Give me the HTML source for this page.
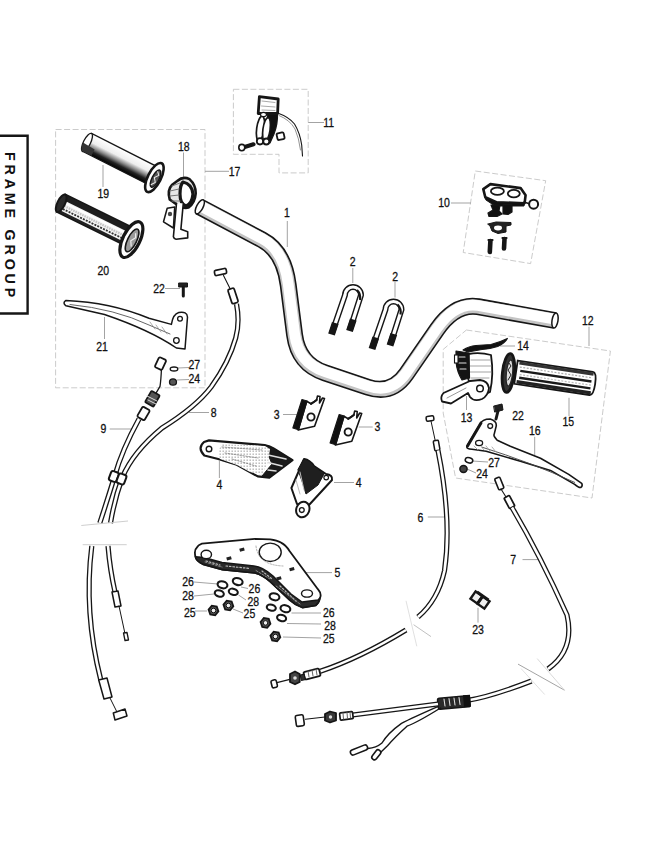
<!DOCTYPE html>
<html><head><meta charset="utf-8"><style>
html,body{margin:0;padding:0;background:#fff;}
body{width:646px;height:862px;overflow:hidden;}
svg{display:block;}
.lb{font-family:"Liberation Sans",sans-serif;font-size:12.2px;fill:#111;stroke:#111;stroke-width:0.3px;}
.fg{font-family:"Liberation Sans",sans-serif;font-weight:bold;font-size:14.3px;letter-spacing:3.8px;fill:#111;}
</style></head><body>
<svg width="646" height="862" viewBox="0 0 646 862">
<rect width="646" height="862" fill="#fff"/>
<path d="M0,135.7 L27.6,135.7 L27.6,313.5 L0,313.5" fill="none" stroke="#161616" stroke-width="2.4"/>
<text x="0" y="0" transform="translate(4.6,226.5) rotate(90)" text-anchor="middle" class="fg">FRAME GROUP</text>
<path d="M55.6,129.5 L205,129.5 L205,387.8 L55.6,387.8 Z" fill="none" stroke="#c2c2c2" stroke-width="0.85" stroke-dasharray="6 2.5"/>
<path d="M233.4,89.3 L308.2,89.3 L308.2,172.9 L279,172.9 L279,154.3 L233.4,154.3 Z" fill="none" stroke="#c2c2c2" stroke-width="0.85" stroke-dasharray="6 2.5"/>
<path d="M475.3,171 L545.7,180.7 L530.6,263.6 L463.2,252.5 Z" fill="none" stroke="#c2c2c2" stroke-width="0.85" stroke-dasharray="6 2.5"/>
<path d="M466.4,330 L610.4,351 L592,498 L455.6,478 L443.2,413 L443.2,349.4 Z" fill="none" stroke="#c2c2c2" stroke-width="0.85" stroke-dasharray="6 2.5"/>
<line x1="308.2" y1="122.5" x2="324" y2="122.5" stroke="#999999" stroke-width="0.9" />
<line x1="205" y1="171.3" x2="229" y2="171.3" stroke="#999999" stroke-width="0.9" />
<line x1="103" y1="165" x2="103" y2="187" stroke="#999999" stroke-width="0.9" />
<line x1="183.5" y1="152.5" x2="183.5" y2="177" stroke="#999999" stroke-width="0.9" />
<line x1="165" y1="288.5" x2="180" y2="288.5" stroke="#999999" stroke-width="0.9" />
<line x1="104.5" y1="317" x2="104.5" y2="339" stroke="#999999" stroke-width="0.9" />
<line x1="178" y1="368" x2="189" y2="367.5" stroke="#999999" stroke-width="0.9" />
<line x1="177" y1="380" x2="189" y2="379.5" stroke="#999999" stroke-width="0.9" />
<line x1="109.7" y1="429" x2="133" y2="429" stroke="#999999" stroke-width="0.9" />
<line x1="189" y1="412.5" x2="209" y2="412.5" stroke="#999999" stroke-width="0.9" />
<line x1="287.3" y1="221" x2="287.3" y2="247" stroke="#999999" stroke-width="0.9" />
<line x1="352.8" y1="268" x2="352.8" y2="283" stroke="#999999" stroke-width="0.9" />
<line x1="395" y1="281.7" x2="395" y2="297.5" stroke="#999999" stroke-width="0.9" />
<line x1="451" y1="203" x2="471" y2="203" stroke="#999999" stroke-width="0.9" />
<line x1="589" y1="326.7" x2="589" y2="346" stroke="#999999" stroke-width="0.9" />
<line x1="500" y1="346" x2="515" y2="346" stroke="#999999" stroke-width="0.9" />
<line x1="569" y1="397.8" x2="569" y2="416" stroke="#999999" stroke-width="0.9" />
<line x1="466.5" y1="396" x2="466.5" y2="410" stroke="#999999" stroke-width="0.9" />
<line x1="534.7" y1="436.8" x2="534.7" y2="455" stroke="#999999" stroke-width="0.9" />
<line x1="472" y1="461" x2="488" y2="462" stroke="#999999" stroke-width="0.9" />
<line x1="467" y1="469" x2="476" y2="473" stroke="#999999" stroke-width="0.9" />
<line x1="283" y1="414.5" x2="297" y2="414.5" stroke="#999999" stroke-width="0.9" />
<line x1="358.7" y1="427" x2="372.7" y2="427" stroke="#999999" stroke-width="0.9" />
<line x1="219.4" y1="461" x2="219.4" y2="478" stroke="#999999" stroke-width="0.9" />
<line x1="334" y1="482.5" x2="354" y2="482.5" stroke="#999999" stroke-width="0.9" />
<line x1="306" y1="572.6" x2="332" y2="572.6" stroke="#999999" stroke-width="0.9" />
<line x1="427.8" y1="517" x2="444.5" y2="517" stroke="#999999" stroke-width="0.9" />
<line x1="522.5" y1="559.6" x2="542.9" y2="559.6" stroke="#999999" stroke-width="0.9" />
<line x1="478" y1="607.8" x2="478" y2="622.6" stroke="#999999" stroke-width="0.9" />
<line x1="194" y1="582" x2="218" y2="584" stroke="#999999" stroke-width="0.9" />
<line x1="194" y1="596" x2="214" y2="594" stroke="#999999" stroke-width="0.9" />
<line x1="195" y1="611" x2="207" y2="611" stroke="#999999" stroke-width="0.9" />
<line x1="291.5" y1="613" x2="321" y2="613" stroke="#999999" stroke-width="0.9" />
<line x1="241" y1="587" x2="248" y2="588.5" stroke="#999999" stroke-width="0.9" />
<line x1="238.5" y1="595" x2="246" y2="600" stroke="#999999" stroke-width="0.9" />
<line x1="233" y1="609" x2="243" y2="613" stroke="#999999" stroke-width="0.9" />
<line x1="287" y1="623.5" x2="321" y2="624" stroke="#999999" stroke-width="0.9" />
<line x1="283" y1="637" x2="321" y2="638" stroke="#999999" stroke-width="0.9" />
<text transform="translate(328.7,126.7) scale(0.86,1)" text-anchor="middle" class="lb">11</text>
<text transform="translate(234.5,175.5) scale(0.86,1)" text-anchor="middle" class="lb">17</text>
<text transform="translate(103.3,198.2) scale(0.86,1)" text-anchor="middle" class="lb">19</text>
<text transform="translate(183.7,151.2) scale(0.86,1)" text-anchor="middle" class="lb">18</text>
<text transform="translate(103.3,274.59999999999997) scale(0.86,1)" text-anchor="middle" class="lb">20</text>
<text transform="translate(159,292.7) scale(0.86,1)" text-anchor="middle" class="lb">22</text>
<text transform="translate(102,350.9) scale(0.86,1)" text-anchor="middle" class="lb">21</text>
<text transform="translate(194.2,369.0) scale(0.86,1)" text-anchor="middle" class="lb">27</text>
<text transform="translate(194.2,382.9) scale(0.86,1)" text-anchor="middle" class="lb">24</text>
<text transform="translate(103.5,433.2) scale(0.86,1)" text-anchor="middle" class="lb">9</text>
<text transform="translate(213.7,417.0) scale(0.86,1)" text-anchor="middle" class="lb">8</text>
<text transform="translate(287,217.2) scale(0.86,1)" text-anchor="middle" class="lb">1</text>
<text transform="translate(352.6,265.5) scale(0.86,1)" text-anchor="middle" class="lb">2</text>
<text transform="translate(395.1,280.8) scale(0.86,1)" text-anchor="middle" class="lb">2</text>
<text transform="translate(444,207.39999999999998) scale(0.86,1)" text-anchor="middle" class="lb">10</text>
<text transform="translate(587.7,324.8) scale(0.86,1)" text-anchor="middle" class="lb">12</text>
<text transform="translate(523,350.2) scale(0.86,1)" text-anchor="middle" class="lb">14</text>
<text transform="translate(568.2,425.7) scale(0.86,1)" text-anchor="middle" class="lb">15</text>
<text transform="translate(466.5,421.5) scale(0.86,1)" text-anchor="middle" class="lb">13</text>
<text transform="translate(518,420.09999999999997) scale(0.86,1)" text-anchor="middle" class="lb">22</text>
<text transform="translate(534.7,435.4) scale(0.86,1)" text-anchor="middle" class="lb">16</text>
<text transform="translate(494,466.8) scale(0.86,1)" text-anchor="middle" class="lb">27</text>
<text transform="translate(482,478.4) scale(0.86,1)" text-anchor="middle" class="lb">24</text>
<text transform="translate(276.7,419.0) scale(0.86,1)" text-anchor="middle" class="lb">3</text>
<text transform="translate(377.3,431.2) scale(0.86,1)" text-anchor="middle" class="lb">3</text>
<text transform="translate(219.4,488.59999999999997) scale(0.86,1)" text-anchor="middle" class="lb">4</text>
<text transform="translate(358.7,487.09999999999997) scale(0.86,1)" text-anchor="middle" class="lb">4</text>
<text transform="translate(337.4,576.8000000000001) scale(0.86,1)" text-anchor="middle" class="lb">5</text>
<text transform="translate(420.4,522.2) scale(0.86,1)" text-anchor="middle" class="lb">6</text>
<text transform="translate(513.2,563.8000000000001) scale(0.86,1)" text-anchor="middle" class="lb">7</text>
<text transform="translate(478,634.2) scale(0.86,1)" text-anchor="middle" class="lb">23</text>
<text transform="translate(188,586.2) scale(0.86,1)" text-anchor="middle" class="lb">26</text>
<text transform="translate(188,600.2) scale(0.86,1)" text-anchor="middle" class="lb">28</text>
<text transform="translate(189.7,616.5) scale(0.86,1)" text-anchor="middle" class="lb">25</text>
<text transform="translate(254.4,592.9000000000001) scale(0.86,1)" text-anchor="middle" class="lb">26</text>
<text transform="translate(253.2,606.0) scale(0.86,1)" text-anchor="middle" class="lb">28</text>
<text transform="translate(249.4,618.4000000000001) scale(0.86,1)" text-anchor="middle" class="lb">25</text>
<text transform="translate(328.7,617.2) scale(0.86,1)" text-anchor="middle" class="lb">26</text>
<text transform="translate(330,629.6) scale(0.86,1)" text-anchor="middle" class="lb">28</text>
<text transform="translate(328.7,643.2) scale(0.86,1)" text-anchor="middle" class="lb">25</text>
<path d="M199.5,206.7 L262,239.8 Q284,251.4 288.2,285 L294.6,335 Q298.4,364 325,372.9 L368,387.2 Q391.7,395.1 406.3,374 L437,329.5 Q455.3,303.2 478,306.7 L555,320.5" fill="none" stroke="#161616" stroke-width="17" stroke-linejoin="round"/>
<path d="M199.5,206.7 L262,239.8 Q284,251.4 288.2,285 L294.6,335 Q298.4,364 325,372.9 L368,387.2 Q391.7,395.1 406.3,374 L437,329.5 Q455.3,303.2 478,306.7 L555,320.5" fill="none" stroke="#c4c4c4" stroke-width="13.8" stroke-linejoin="round"/>
<path d="M199.5,206.7 L262,239.8 Q284,251.4 288.2,285 L294.6,335 Q298.4,364 325,372.9 L368,387.2 Q391.7,395.1 406.3,374 L437,329.5 Q455.3,303.2 478,306.7 L555,320.5" fill="none" stroke="#fff" stroke-width="10.8" stroke-linejoin="round" transform="translate(0,-1.2)"/>
<ellipse cx="199.8" cy="206.8" rx="3.2" ry="7.8" transform="rotate(28 199.8 206.8)" fill="#fff" stroke="#161616" stroke-width="1.5"/>
<ellipse cx="555" cy="320.5" rx="3" ry="7.6" transform="rotate(9 555 320.5)" fill="#fff" stroke="#161616" stroke-width="1.5"/>
<path d="M332,333 L345,295 A8,8 0 0 1 361,295 L350,329.5" fill="none" stroke="#161616" stroke-width="6" stroke-linecap="butt" stroke-linejoin="round"/>
<path d="M332,333 L345,295 A8,8 0 0 1 361,295 L350,329.5" fill="none" stroke="#fff" stroke-width="3.2" stroke-linecap="butt" stroke-linejoin="round"/>
<path d="M331.5,334.5 L335.3,323 M349.5,331 L353.3,319.5" stroke="#161616" stroke-width="7" stroke-linecap="butt"/>
<path d="M357,290 Q361,294 360,300" stroke="#161616" stroke-width="2.2" fill="none"/>
<path d="M372.5,347.5 L385.5,309.5 A8,8 0 0 1 401.5,309.5 L390.5,344.0" fill="none" stroke="#161616" stroke-width="6" stroke-linecap="butt" stroke-linejoin="round"/>
<path d="M372.5,347.5 L385.5,309.5 A8,8 0 0 1 401.5,309.5 L390.5,344.0" fill="none" stroke="#fff" stroke-width="3.2" stroke-linecap="butt" stroke-linejoin="round"/>
<path d="M372.0,349.0 L375.8,337.5 M390.0,345.5 L393.8,334.0" stroke="#161616" stroke-width="7" stroke-linecap="butt"/>
<path d="M397.5,304.5 Q401.5,308.5 400.5,314.5" stroke="#161616" stroke-width="2.2" fill="none"/>
<defs><linearGradient id="g19" x1="0" y1="0" x2="0" y2="1"><stop offset="0" stop-color="#fff"/><stop offset="0.4" stop-color="#eee"/><stop offset="0.62" stop-color="#888"/><stop offset="0.8" stop-color="#222"/><stop offset="1" stop-color="#000"/></linearGradient></defs>
<g transform="translate(87,142.4) rotate(26.8)"><path d="M0,-10 L74,-10 L74,10 L0,10 Z" fill="url(#g19)" stroke="#161616" stroke-width="1.3"/><ellipse cx="0" cy="0" rx="3.5" ry="10" fill="#fff" stroke="#161616" stroke-width="1.3"/><path d="M-3.5,2 Q-3,9 0,10 L10,10 L10,3 Z" fill="#333"/><ellipse cx="76" cy="1" rx="6.5" ry="16" fill="#fff" stroke="#161616" stroke-width="2.6"/><ellipse cx="77.5" cy="1.5" rx="3.5" ry="9.5" fill="#555" stroke="#161616" stroke-width="1.5"/><path d="M76,-6 L79,-3 L76,1 L79,5 L76,9" stroke="#eee" stroke-width="1" fill="none"/></g>
<g transform="translate(61.2,203.25) rotate(26.2)"><path d="M0,-9.5 L76,-9.5 L76,9.5 L0,9.5 Z" fill="#f4f4f4" stroke="#161616" stroke-width="2.2"/><path d="M1,-6.5 L76,-6.5" stroke="#1e1e1e" stroke-width="5.5"/><path d="M4,-1.8 L74,-1.8" stroke="#fff" stroke-width="2"/><path d="M4,1.2 L74,1.2" stroke="#c4c4c4" stroke-width="2.2" stroke-dasharray="1.5 1"/><path d="M4,4.4 L74,4.4" stroke="#333" stroke-width="1.8" stroke-dasharray="2 1.2"/><path d="M1,8 L76,8" stroke="#222" stroke-width="2.4"/><ellipse cx="0" cy="0" rx="3.8" ry="9.5" fill="#2a2a2a" stroke="#161616" stroke-width="2"/><ellipse cx="79" cy="1.6" rx="8.5" ry="19.5" fill="#fff" stroke="#161616" stroke-width="3.2"/><ellipse cx="80" cy="2" rx="4.5" ry="12.5" fill="#9a9a9a" stroke="#161616" stroke-width="1.6"/><path d="M80,-6 L82,-2 L79,3 L82,8" stroke="#eee" stroke-width="1.2" fill="none"/></g>
<path d="M177.2,181 Q183,176 189.5,179.1 Q196,185 195.7,193.3 Q195,203 188.3,207.6 Q183,209 176,204 L169.7,199.5 Q167,190 172.2,184.7 Z" fill="#e6e6e6" stroke="#161616" stroke-width="2.6" stroke-linejoin="round" stroke-linecap="round" />
<path d="M183,182 Q192,184 193,194 Q192,204 186,206 Q180,204 180,194 Q180,185 183,182 Z" fill="#fff" stroke="#161616" stroke-width="3.2" stroke-linejoin="round" stroke-linecap="round" />
<path d="M172,186 L180,183 M170,191 L179,189 M170,196 L179,195 M172,201 L180,201" fill="none" stroke="#777" stroke-width="1" stroke-linejoin="round" stroke-linecap="round" />
<path d="M176.5,203.3 L173.4,236.7 Q174,239 176,239.2 L187.7,237.9 L187.7,231.7 L180.9,229.3 L183.3,203.3" fill="#fff" stroke="#161616" stroke-width="1.6" stroke-linejoin="round" stroke-linecap="round" />
<path d="M163.5,221.8 L167.2,208.2 L174.7,207 L173.4,228 Z" fill="#fff" stroke="#161616" stroke-width="1.5" stroke-linejoin="round" stroke-linecap="round" />
<circle cx="170" cy="214" r="2.2" fill="#444"/>
<path d="M66,300.4 Q110,302 149,318.2 L171.4,324.4 Q173,314 178.8,312.5 Q187,311 187.5,317 L185,349 L176.4,348 Q150,330 104.5,314.5 L66,305.8 Q62,303 66,300.4 Z" fill="#fff" stroke="#161616" stroke-width="1.5" stroke-linejoin="round" stroke-linecap="round" />
<path d="M70,304.5 Q115,309 149,325 L170,334" fill="none" stroke="#555" stroke-width="0.9" stroke-linejoin="round" stroke-linecap="round" />
<path d="M150,322 L155,329 M156,325 L161,332 M162,327 L167,334" fill="none" stroke="#999" stroke-width="0.8" stroke-linejoin="round" stroke-linecap="round" />
<circle cx="180" cy="318.7" r="2.4" fill="#fff" stroke="#161616" stroke-width="1.3"/>
<circle cx="176.4" cy="340.5" r="2.8" fill="#fff" stroke="#161616" stroke-width="1.3"/>
<path d="M179,283 L187.5,283 L187.5,287 L179,287 Z" fill="#222" stroke="#161616" stroke-width="1" stroke-linejoin="round" stroke-linecap="round" />
<path d="M183.3,287 L183.3,296" fill="none" stroke="#161616" stroke-width="3" stroke-linejoin="round" stroke-linecap="round" />
<ellipse cx="174" cy="369" rx="3.8" ry="2" fill="none" stroke="#161616" stroke-width="1.3"/>
<ellipse cx="173" cy="382" rx="3.5" ry="3.2" fill="#555" stroke="#161616" stroke-width="1.3"/>
<path d="M161.5,368 Q161,380 160,386.4 L156.3,392.6" fill="none" stroke="#161616" stroke-width="1.3" stroke-linejoin="round" stroke-linecap="round" />
<rect x="-4" y="-5.5" width="8" height="11" rx="1.5" transform="translate(160.5,363.6) rotate(25)" fill="#fff" stroke="#161616" stroke-width="1.8"/>
<rect x="-4.8" y="-6.5" width="9.6" height="13" rx="1" transform="translate(152.4,398.8) rotate(30)" fill="#555" stroke="#161616" stroke-width="1.8"/>
<path d="M147,396 L157,401 M148,400 L156,404" fill="none" stroke="#ddd" stroke-width="1" stroke-linejoin="round" stroke-linecap="round" />
<rect x="-4.2" y="-5.8" width="8.4" height="11.6" rx="1.5" transform="translate(143.5,413.5) rotate(30)" fill="#fff" stroke="#161616" stroke-width="1.8"/>
<path d="M139,419 Q122,450 114.7,476 Q108,498 99.8,523" fill="none" stroke="#161616" stroke-width="5.2" stroke-linecap="butt" stroke-linejoin="round"/>
<path d="M139,419 Q122,450 114.7,476 Q108,498 99.8,523" fill="none" stroke="#fff" stroke-width="2.6" stroke-linecap="butt" stroke-linejoin="round"/>
<path d="M236.5,304 Q240,322 235.7,338 Q229,362 211.3,386.8 Q196,407 161.7,428.2 Q133,452 122.5,477 Q114.5,499 110.5,523" fill="none" stroke="#161616" stroke-width="5.2" stroke-linecap="butt" stroke-linejoin="round"/>
<path d="M236.5,304 Q240,322 235.7,338 Q229,362 211.3,386.8 Q196,407 161.7,428.2 Q133,452 122.5,477 Q114.5,499 110.5,523" fill="none" stroke="#fff" stroke-width="2.6" stroke-linecap="butt" stroke-linejoin="round"/>
<path d="M223.5,275.4 L230,288.5" fill="none" stroke="#161616" stroke-width="1.1" stroke-linejoin="round" stroke-linecap="round" />
<rect x="-6" y="-2.6" width="12" height="5.2" rx="1.5" transform="translate(220.5,272) rotate(-12)" fill="#fff" stroke="#161616" stroke-width="1.7"/>
<rect x="-3" y="-7.5" width="6.5" height="15" rx="1.5" transform="translate(232.8,296) rotate(-18)" fill="#fff" stroke="#161616" stroke-width="1.7"/>
<rect x="-4" y="-5" width="8" height="10" rx="2" transform="translate(113.8,476.5) rotate(20)" fill="#fff" stroke="#161616" stroke-width="2"/>
<rect x="-4" y="-5" width="8" height="10" rx="2" transform="translate(121.5,479) rotate(20)" fill="#fff" stroke="#161616" stroke-width="2"/>
<line x1="81.3" y1="525.5" x2="128" y2="521" stroke="#c8c8c8" stroke-width="0.9" />
<line x1="82.7" y1="544.7" x2="126.7" y2="544.7" stroke="#c8c8c8" stroke-width="0.9" />
<path d="M91.8,546 Q83.5,612 100.8,680" fill="none" stroke="#161616" stroke-width="5.2" stroke-linecap="butt" stroke-linejoin="round"/>
<path d="M91.8,546 Q83.5,612 100.8,680" fill="none" stroke="#fff" stroke-width="2.6" stroke-linecap="butt" stroke-linejoin="round"/>
<path d="M98.7,680 L107,678 L112,697 L104,699 Z" fill="#fff" stroke="#161616" stroke-width="1.5" stroke-linejoin="round" stroke-linecap="round" />
<path d="M110,698 L117.3,712.7" fill="none" stroke="#161616" stroke-width="1" stroke-linejoin="round" stroke-linecap="round" />
<path d="M113.3,713 L125,709 L127,716 L115,720 Z" fill="#fff" stroke="#161616" stroke-width="1.5" stroke-linejoin="round" stroke-linecap="round" />
<path d="M108,546 Q110,570 115,592" fill="none" stroke="#161616" stroke-width="5.2" stroke-linecap="butt" stroke-linejoin="round"/>
<path d="M108,546 Q110,570 115,592" fill="none" stroke="#fff" stroke-width="2.6" stroke-linecap="butt" stroke-linejoin="round"/>
<path d="M112,592 L118,591 L121,606 L115,607 Z" fill="#fff" stroke="#161616" stroke-width="1.5" stroke-linejoin="round" stroke-linecap="round" />
<path d="M119,606 L125.5,636" fill="none" stroke="#161616" stroke-width="1" stroke-linejoin="round" stroke-linecap="round" />
<path d="M123.5,633 L127,632.5 L128.5,640 L125,640.5 Z" fill="#fff" stroke="#161616" stroke-width="1.3" stroke-linejoin="round" stroke-linecap="round" />
<path d="M268,112 L277.5,112 Q278,124 274,134 L270,143 L265,143 Z" fill="#111" stroke="#161616" stroke-width="1.2" stroke-linejoin="round" stroke-linecap="round" />
<ellipse cx="260.5" cy="128.5" rx="3.8" ry="12.5" transform="rotate(8 260.5 128.5)" fill="#fff" stroke="#161616" stroke-width="1.7"/>
<ellipse cx="266.5" cy="129.5" rx="3.6" ry="12" transform="rotate(8 266.5 129.5)" fill="#fff" stroke="#161616" stroke-width="1.7"/>
<circle cx="260" cy="141.3" r="3.2" fill="#fff" stroke="#161616" stroke-width="1.8"/>
<circle cx="266.3" cy="141.5" r="3" fill="#fff" stroke="#161616" stroke-width="1.8"/>
<path d="M259.4,96.7 L278.2,99 L277.6,113.5 L258.2,113.5 Z" fill="#fff" stroke="#161616" stroke-width="2.8" stroke-linejoin="round" stroke-linecap="round" />
<path d="M262,101 L275,102.5 M261.5,106 L275,107 M262,110 L275,110.5" fill="none" stroke="#aaa" stroke-width="1" stroke-linejoin="round" stroke-linecap="round" />
<ellipse cx="263.5" cy="114.5" rx="3" ry="2.2" fill="#fff" stroke="#161616" stroke-width="1.2"/>
<path d="M277.6,113 Q289,117 294.5,124 Q300,133 301.7,145 L302.5,156" fill="none" stroke="#161616" stroke-width="1.1" stroke-linejoin="round" stroke-linecap="round" />
<path d="M279,115.5 Q290,120 295,129 Q299,138 300.5,150" fill="none" stroke="#777" stroke-width="0.8" stroke-linejoin="round" stroke-linecap="round" />
<rect x="-3.6" y="-3.4" width="7.2" height="6.8" rx="1.5" transform="translate(280.6,136.2) rotate(-12)" fill="#fff" stroke="#161616" stroke-width="1.8"/>
<path d="M243,147.5 L253.5,144.3" fill="none" stroke="#161616" stroke-width="4.2" stroke-linejoin="round" stroke-linecap="round" />
<ellipse cx="241.8" cy="147.6" rx="3" ry="3.2" fill="#fff" stroke="#161616" stroke-width="1.6"/>
<path d="M483.3,189.1 L490.4,184.1 L520.6,188.1 L525.6,195.2 L524.6,203.2 L496.4,202.2 L485.3,197.2 Z" fill="#fff" stroke="#161616" stroke-width="2.6" stroke-linejoin="round" stroke-linecap="round" />
<path d="M485.3,197.2 L496.4,202.2 L524.6,203.2 L524,206 L495,206 L486,200 Z" fill="#111" stroke="#161616" stroke-width="1" stroke-linejoin="round" stroke-linecap="round" />
<ellipse cx="497.4" cy="191.2" rx="6.5" ry="3.6" fill="#fff" stroke="#161616" stroke-width="1.8"/>
<ellipse cx="513.8" cy="193.6" rx="6" ry="3.8" fill="#fff" stroke="#161616" stroke-width="1.8"/>
<path d="M524,202 L530,204" fill="none" stroke="#161616" stroke-width="1.5" stroke-linejoin="round" stroke-linecap="round" />
<circle cx="533.6" cy="204.2" r="4.5" fill="#fff" stroke="#161616" stroke-width="2"/>
<path d="M491,205 L500,205 L499,211 L502,214 L497,216.5 L489,216.5 L488,213 L493,210 Z" fill="#111" stroke="#161616" stroke-width="1.2" stroke-linejoin="round" stroke-linecap="round" />
<path d="M503,204.5 L512,204.5 L512,212 L508,214.5 L503,214 Z" fill="#111" stroke="#161616" stroke-width="1.2" stroke-linejoin="round" stroke-linecap="round" />
<path d="M488,224 L496,222 L511,222.5 L511,225 L506,226 L506,232 L498,233.5 L492,231 L490,226 Z" fill="#222" stroke="#161616" stroke-width="1" stroke-linejoin="round" stroke-linecap="round" />
<ellipse cx="498" cy="228" rx="4" ry="2.4" fill="#fff"/>
<path d="M490.4,241 L489.8,252 M504.5,239 L504,248.5" fill="none" stroke="#161616" stroke-width="4.6" stroke-linejoin="round" stroke-linecap="round" />
<path d="M488.5,240 L492.5,240 M502.5,238 L506.5,238" fill="none" stroke="#161616" stroke-width="2.2" stroke-linejoin="round" stroke-linecap="round" />
<g transform="translate(516,372.2) rotate(8.5)"><path d="M0,-11.7 L76,-11.7 Q80,-11.7 80,0 Q80,11.7 76,11.7 L0,11.7 Z" fill="#fff" stroke="#161616" stroke-width="1.8"/><path d="M2,-9.6 L77,-9.6" stroke="#333" stroke-width="3.2"/><path d="M3,-5.6 L76,-5.6" stroke="#aaa" stroke-width="1.2" stroke-dasharray="2 1.5"/><path d="M4,-2 L76,-2" stroke="#1a1a1a" stroke-width="2.4"/><path d="M4,1.8 L76,1.8" stroke="#bbb" stroke-width="1.2" stroke-dasharray="2 1.5"/><path d="M4,5 L76,5" stroke="#1a1a1a" stroke-width="2.4"/><path d="M2,9.4 L77,9.4" stroke="#222" stroke-width="3.4"/></g>
<ellipse cx="508.4" cy="373" rx="6" ry="19.5" transform="rotate(6 508.4 373)" fill="#333" stroke="#161616" stroke-width="2.8"/>
<ellipse cx="509.5" cy="373" rx="3" ry="13" transform="rotate(6 509.5 373)" fill="#ddd" stroke="#222" stroke-width="1"/>
<path d="M509,363 L511,366 L508,370 L511,375 L508,380" fill="none" stroke="#222" stroke-width="1" stroke-linejoin="round" stroke-linecap="round" />
<path d="M468.4,354 Q480,352 491,355 Q494,375 490,392 Q482,397 476,389 L468.4,380 Z" fill="#fff" stroke="#161616" stroke-width="1.8" stroke-linejoin="round" stroke-linecap="round" />
<path d="M471,360 L490,360 M470,366 L491,366 M470,372 L491,372 M471,378 L489,378" fill="none" stroke="#999" stroke-width="0.9" stroke-linejoin="round" stroke-linecap="round" />
<path d="M456,351 L469,353 L469.5,378 L462,380 Q457,372 456,362 Z" fill="#141414" stroke="#161616" stroke-width="1.2" stroke-linejoin="round" stroke-linecap="round" />
<path d="M459,357 L465,357 M459,363 L466,363 M460,369 L466,369" fill="none" stroke="#ddd" stroke-width="1.2" stroke-linejoin="round" stroke-linecap="round" />
<rect x="454.5" y="355" width="3.5" height="8" fill="#fff" stroke="#161616" stroke-width="1.1"/>
<path d="M470,381 L443.5,393 Q440,397 442,401.5 L451,403.5 L468,393 L470,397 Q474,402 482,399 Q488,396 489,388 Q488,381 480,380 Z" fill="#fff" stroke="#161616" stroke-width="1.8" stroke-linejoin="round" stroke-linecap="round" />
<path d="M447,398 L466,388" fill="none" stroke="#999" stroke-width="1" stroke-linejoin="round" stroke-linecap="round" />
<circle cx="480" cy="388.5" r="3.3" fill="#fff" stroke="#161616" stroke-width="1.5"/>
<path d="M463,350 Q469,346 476,345.5 L491,344.5 Q500,342 507.4,338.4 Q505,343 497.7,346.5 Q490,349 482,349.5 L468,352 Z" fill="#111" stroke="#161616" stroke-width="1.1" stroke-linejoin="round" stroke-linecap="round" />
<path d="M490.2,419 Q482,419 480.1,424.1 L467,446.2 Q466,449 472,449.2 L486.2,451.2 L520.4,461.3 L550.5,470.4 L574.7,484.4 Q579,488 580.7,487.5 Q583,486 581.7,483.4 L568.7,474.4 L540.5,458.3 L510.3,446.2 L497.2,440.2 Q493,436 494.2,434.1 L496.2,426.1 Q497,421 490.2,419 Z" fill="#fff" stroke="#161616" stroke-width="1.6" stroke-linejoin="round" stroke-linecap="round" />
<path d="M481,423 L467.5,446" fill="none" stroke="#161616" stroke-width="3" stroke-linejoin="round" stroke-linecap="round" />
<path d="M482.1,447.2 Q530,462 574.7,482.4" fill="none" stroke="#444" stroke-width="0.9" stroke-linejoin="round" stroke-linecap="round" />
<path d="M474,446 L478,450 M480,445 L484,450 M486,446 L490,451 M492,447 L496,452" fill="none" stroke="#999" stroke-width="0.8" stroke-linejoin="round" stroke-linecap="round" />
<circle cx="490.2" cy="426.1" r="2.4" fill="#fff" stroke="#161616" stroke-width="1.3"/>
<ellipse cx="479.1" cy="443" rx="3.5" ry="2.6" fill="#fff" stroke="#161616" stroke-width="1.3"/>
<path d="M494,406 L502,404 L503,410 L495,412 Z" fill="#222" stroke="#161616" stroke-width="1" stroke-linejoin="round" stroke-linecap="round" />
<path d="M498,411 L496,419" fill="none" stroke="#161616" stroke-width="3" stroke-linejoin="round" stroke-linecap="round" />
<ellipse cx="469" cy="460.3" rx="3.8" ry="2.6" transform="rotate(15 469 460.3)" fill="none" stroke="#161616" stroke-width="1.6"/>
<ellipse cx="463.5" cy="469" rx="3.6" ry="3.4" fill="#444" stroke="#161616" stroke-width="1.5"/>
<path d="M306.7,401.2 L311.0,403.8 L316.6,400.0 L317.5,396.0 L320.0,396.5 L319.5,403.0 L322.5,398.0 L324.5,398.5 L314.6,426.2 L298.2,430.0 Z" fill="#fff" stroke="#161616" stroke-width="1.6" stroke-linejoin="round" stroke-linecap="round" />
<path d="M302.0,399.5 L307.0,401.0 L298.5,429.8 L292.9,428.0 Z" fill="#111" stroke="#161616" stroke-width="1.2" stroke-linejoin="round" stroke-linecap="round" />
<path d="M311,403.8 Q314,402 316.6,400" fill="none" stroke="#161616" stroke-width="2.2" stroke-linejoin="round" stroke-linecap="round" />
<circle cx="311" cy="417" r="3.6" fill="#fff" stroke="#161616" stroke-width="1.9"/>
<path d="M343.9,416.2 L348.2,418.8 L353.8,415.0 L354.7,411.0 L357.2,411.5 L356.7,418.0 L359.7,413.0 L361.7,413.5 L351.8,441.2 L335.4,445.0 Z" fill="#fff" stroke="#161616" stroke-width="1.6" stroke-linejoin="round" stroke-linecap="round" />
<path d="M339.2,414.5 L344.2,416.0 L335.7,444.8 L330.1,443.0 Z" fill="#111" stroke="#161616" stroke-width="1.2" stroke-linejoin="round" stroke-linecap="round" />
<path d="M348.2,418.8 Q351.2,417 353.8,415" fill="none" stroke="#161616" stroke-width="2.2" stroke-linejoin="round" stroke-linecap="round" />
<circle cx="348.2" cy="432" r="3.6" fill="#fff" stroke="#161616" stroke-width="1.9"/>
<path d="M209,440.4 L264.7,445.1 Q270,446 274,448.6 L292.5,460.2 L278.6,470.6 L269.3,477.6 L257.7,476.4 L236.8,464.8 L218.2,459 L204.3,455.5 Q197,448 204,442 Z" fill="#fff" stroke="#161616" stroke-width="2.2" stroke-linejoin="round" stroke-linecap="round" />
<path d="M264.7,445.1 Q270,446 274,448.6 L292.5,460.2 L278.6,470.6 L269.3,477.6 L262,476 L272,464 L265,447 Z" fill="#1a1a1a" stroke="#161616" stroke-width="1" stroke-linejoin="round" stroke-linecap="round" />
<path d="M268,455 L286,459 M266,462 L282,466 M268,470 L276,471" fill="none" stroke="#ddd" stroke-width="1.5" stroke-linejoin="round" stroke-linecap="round" />
<defs><pattern id="dots" width="3" height="3" patternUnits="userSpaceOnUse"><rect width="3" height="3" fill="#fff"/><rect x="0.5" y="0.5" width="1.4" height="1.4" fill="#b4b4b4"/></pattern></defs>
<path d="M222,444 L265,446 L270,449 L268,462 L262,475 L250,472 L237,465 L220,459 Q216,452 222,444 Z" fill="url(#dots)" stroke="none" stroke-width="0" stroke-linejoin="round" stroke-linecap="round" />
<path d="M222,447 L262,450 M225,453 L258,458 M232,459 L256,466" fill="none" stroke="#888" stroke-width="0.9" stroke-linejoin="round" stroke-linecap="round" stroke-dasharray="1.5 1.5"/>
<circle cx="209" cy="449" r="2.8" fill="#fff" stroke="#161616" stroke-width="1.4"/>
<path d="M304.1,459 Q310,460 314,466 L326,474 Q333,475 332,480 L309,505 L297,504 L291.4,488 Z" fill="#fff" stroke="#161616" stroke-width="2" stroke-linejoin="round" stroke-linecap="round" />
<path d="M304.1,459 Q310,460 314,466 L324,474 L318,485 L306,494 Q302,480 298,470 Z" fill="#1f1f1f" stroke="#161616" stroke-width="1" stroke-linejoin="round" stroke-linecap="round" />
<path d="M300,472 L304,490 M296,480 L300,494" fill="none" stroke="#bbb" stroke-width="1" stroke-linejoin="round" stroke-linecap="round" />
<ellipse cx="302.8" cy="509.5" rx="6.5" ry="8" transform="rotate(20 302.8 509.5)" fill="#fff" stroke="#161616" stroke-width="2"/>
<circle cx="301.8" cy="510.1" r="2.4" fill="#fff" stroke="#161616" stroke-width="1.3"/>
<circle cx="326.2" cy="477.6" r="2.3" fill="#fff" stroke="#161616" stroke-width="1.2"/>
<path d="M201.9,543.7 L255,538.9 L270.2,539.3 Q277,540 281,542.6 Q286,545 289.7,551.3 L317.9,589.2 Q322,594 320,597.9 Q319,603 315.7,605.4 L302.7,607.6 Q295,605 289.7,600 L270.2,581.6 Q263,575 255,572.9 L222.5,569.7 L203,564.3 Q196,561 195.4,556.7 Q194,550 196.5,548 Q198,545 201.9,543.7 Z" fill="#fff" stroke="#161616" stroke-width="1.8" stroke-linejoin="round" stroke-linecap="round" />
<path d="M195.4,556.7 Q196,561 203,564.3 L222.5,569.7 L255,572.9 Q263,575 270.2,581.6 L289.7,600 Q295,605 302.7,607.6 L315.7,605.4 Q319,603 320,597.9 L318,600 L302,602 L291,594 L273,576 Q263,567 254,566 L222,562.5 L204,557.5 Z" fill="#2a2a2a" stroke="#161616" stroke-width="1.5" stroke-linejoin="round" stroke-linecap="round" />
<path d="M206,561 L220,565 M226,566 L250,568.5 M262,571 L272,579 M280,586 L296,601" fill="none" stroke="#bbb" stroke-width="1.2" stroke-linejoin="round" stroke-linecap="round" stroke-dasharray="1.5 2"/>
<path d="M205,562 L222,567 M256,570.5 L270,579 M276,586 L300,604" fill="none" stroke="#888" stroke-width="1" stroke-linejoin="round" stroke-linecap="round" stroke-dasharray="2 1.5"/>
<ellipse cx="270.2" cy="552.3" rx="11" ry="9.2" fill="#fff" stroke="#161616" stroke-width="1.4"/>
<path d="M256,546 Q258,565 283,566" fill="none" stroke="#999" stroke-width="0.8" stroke-linejoin="round" stroke-linecap="round" stroke-dasharray="1.5 1.5"/>
<ellipse cx="206.3" cy="554.5" rx="5.2" ry="4.2" fill="#fff" stroke="#161616" stroke-width="1.4"/>
<ellipse cx="307" cy="593.5" rx="5.5" ry="3.6" fill="#fff" stroke="#161616" stroke-width="1.4"/>
<rect x="239.6" y="548.1" width="4.8" height="3.2" transform="rotate(-15 242 549.7)" fill="#222"/>
<rect x="226.6" y="556.8" width="4.8" height="3.2" transform="rotate(-15 229 558.4)" fill="#222"/>
<rect x="289.5" y="567.6" width="4.8" height="3.2" transform="rotate(-15 291.9 569.2)" fill="#222"/>
<rect x="276.5" y="576.6999999999999" width="4.8" height="3.2" transform="rotate(-15 278.9 578.3)" fill="#222"/>
<ellipse cx="222.5" cy="584.8" rx="5" ry="3.4" transform="rotate(15 222.5 584.8)" fill="#fff" stroke="#161616" stroke-width="2.1"/>
<ellipse cx="237.7" cy="581.6" rx="5" ry="3.4" transform="rotate(15 237.7 581.6)" fill="#fff" stroke="#161616" stroke-width="2.1"/>
<ellipse cx="274.5" cy="596.8" rx="5" ry="3.4" transform="rotate(15 274.5 596.8)" fill="#fff" stroke="#161616" stroke-width="2.1"/>
<ellipse cx="285.4" cy="608.7" rx="5" ry="3.4" transform="rotate(15 285.4 608.7)" fill="#fff" stroke="#161616" stroke-width="2.1"/>
<ellipse cx="219.3" cy="593.5" rx="4.6" ry="3.0" transform="rotate(15 219.3 593.5)" fill="#fff" stroke="#161616" stroke-width="2.1"/>
<ellipse cx="233.3" cy="591.8" rx="4.6" ry="3.0" transform="rotate(15 233.3 591.8)" fill="#fff" stroke="#161616" stroke-width="2.1"/>
<ellipse cx="271.3" cy="607.6" rx="4.6" ry="3.0" transform="rotate(15 271.3 607.6)" fill="#fff" stroke="#161616" stroke-width="2.1"/>
<ellipse cx="281.6" cy="618" rx="4.6" ry="3.0" transform="rotate(15 281.6 618)" fill="#fff" stroke="#161616" stroke-width="2.1"/>
<path d="M208.5,610.5 L211.0,606.0 L216.0,606.0 L218.5,610.5 L216.0,615.0 L211.0,615.0 Z" transform="rotate(10 213.5 610.5)" fill="#555" stroke="#161616" stroke-width="1.8"/>
<circle cx="213.5" cy="610.5" r="2.3" fill="#eee" stroke="#111" stroke-width="1"/>
<path d="M223.4,605.5 L225.9,601.0 L230.9,601.0 L233.4,605.5 L230.9,610.0 L225.9,610.0 Z" transform="rotate(10 228.4 605.5)" fill="#555" stroke="#161616" stroke-width="1.8"/>
<circle cx="228.4" cy="605.5" r="2.3" fill="#eee" stroke="#111" stroke-width="1"/>
<path d="M260.5,622.9 L263.0,618.4 L268.0,618.4 L270.5,622.9 L268.0,627.4 L263.0,627.4 Z" transform="rotate(10 265.5 622.9)" fill="#555" stroke="#161616" stroke-width="1.8"/>
<circle cx="265.5" cy="622.9" r="2.3" fill="#eee" stroke="#111" stroke-width="1"/>
<path d="M270.4,636.5 L272.9,632.0 L277.9,632.0 L280.4,636.5 L277.9,641.0 L272.9,641.0 Z" transform="rotate(10 275.4 636.5)" fill="#555" stroke="#161616" stroke-width="1.8"/>
<circle cx="275.4" cy="636.5" r="2.3" fill="#eee" stroke="#111" stroke-width="1"/>
<rect x="-3.8" y="-2.4" width="7.6" height="4.8" rx="1.3" transform="translate(430,418.5) rotate(-8)" fill="#fff" stroke="#161616" stroke-width="1.5"/>
<path d="M431,421 L435.3,441" fill="none" stroke="#161616" stroke-width="1" stroke-linejoin="round" stroke-linecap="round" />
<rect x="-2.6" y="-5" width="5.2" height="10" rx="1" transform="translate(436.6,445.5) rotate(-10)" fill="#fff" stroke="#161616" stroke-width="1.5"/>
<path d="M438,450.5 Q452,520 444.5,570.7 Q438,600 418,617" fill="none" stroke="#161616" stroke-width="5.2" stroke-linecap="butt" stroke-linejoin="round"/>
<path d="M438,450.5 Q452,520 444.5,570.7 Q438,600 418,617" fill="none" stroke="#fff" stroke-width="2.6" stroke-linecap="butt" stroke-linejoin="round"/>
<path d="M406,630 Q360,658 320.3,671.3" fill="none" stroke="#161616" stroke-width="5.2" stroke-linecap="butt" stroke-linejoin="round"/>
<path d="M406,630 Q360,658 320.3,671.3" fill="none" stroke="#fff" stroke-width="2.6" stroke-linecap="butt" stroke-linejoin="round"/>
<line x1="413.6" y1="624.7" x2="431" y2="636.6" stroke="#b0b0b0" stroke-width="0.8" />
<line x1="406" y1="600.8" x2="416.8" y2="646.3" stroke="#d8d8d8" stroke-width="0.8" />
<rect x="-8" y="-3.8" width="16" height="7.6" rx="1.5" transform="translate(312,674) rotate(-14)" fill="#fff" stroke="#161616" stroke-width="1.8"/>
<path d="M308,671 L309,677 M312,670 L313,676 M316,669 L317,675" fill="none" stroke="#666" stroke-width="1" stroke-linejoin="round" stroke-linecap="round" />
<rect x="-2" y="-2.8" width="4" height="5.6" transform="translate(302.8,677.3) rotate(-14)" fill="#333" stroke="#161616" stroke-width="1"/>
<path d="M290,674 L295,671.5 L299.7,674 L299.7,682 L295,684.3 L290,682 Z" fill="#444" stroke="#161616" stroke-width="1.8" stroke-linejoin="round" stroke-linecap="round" />
<circle cx="295" cy="678" r="1.8" fill="#ddd"/>
<path d="M276.9,682.6 L289.9,679.4" fill="none" stroke="#161616" stroke-width="1.1" stroke-linejoin="round" stroke-linecap="round" />
<rect x="-2.7" y="-3.8" width="5.4" height="7.6" rx="1.5" transform="translate(274.2,683.8) rotate(-14)" fill="#fff" stroke="#161616" stroke-width="1.6"/>
<rect x="-2.8" y="-6" width="5.6" height="12" rx="1.2" transform="translate(499.3,483.5) rotate(-22)" fill="#fff" stroke="#161616" stroke-width="1.6"/>
<path d="M501,489 L506,497" fill="none" stroke="#161616" stroke-width="1.1" stroke-linejoin="round" stroke-linecap="round" />
<rect x="-3" y="-6" width="6" height="12" rx="1" transform="translate(509.4,502) rotate(-28)" fill="#fff" stroke="#161616" stroke-width="1.7"/>
<path d="M512,507.5 Q540,555 567,615 Q575,650 548,669" fill="none" stroke="#161616" stroke-width="5.2" stroke-linecap="butt" stroke-linejoin="round"/>
<path d="M512,507.5 Q540,555 567,615 Q575,650 548,669" fill="none" stroke="#fff" stroke-width="2.6" stroke-linecap="butt" stroke-linejoin="round"/>
<path d="M531.5,681 Q490,697 466.8,700.5" fill="none" stroke="#161616" stroke-width="5.2" stroke-linecap="butt" stroke-linejoin="round"/>
<path d="M531.5,681 Q490,697 466.8,700.5" fill="none" stroke="#fff" stroke-width="2.6" stroke-linecap="butt" stroke-linejoin="round"/>
<line x1="518" y1="664.1" x2="564.5" y2="690.2" stroke="#999" stroke-width="0.9" />
<line x1="537.2" y1="658.6" x2="564.5" y2="690.2" stroke="#cfcfcf" stroke-width="0.8" />
<line x1="521" y1="668.5" x2="544.7" y2="694.5" stroke="#d8d8d8" stroke-width="0.8" />
<rect x="-16" y="-5.6" width="32" height="11.2" rx="2" transform="translate(453.8,702.5) rotate(-5)" fill="#2a2a2a" stroke="#161616" stroke-width="1.5"/>
<path d="M444,699 L445,706 M449,698.5 L450,705.5 M454,698 L455,705 M459,697.5 L460,704.5" fill="none" stroke="#ddd" stroke-width="1.1" stroke-linejoin="round" stroke-linecap="round" />
<rect x="-3.5" y="-6" width="7" height="12" transform="translate(467,701) rotate(-5)" fill="#111"/>
<path d="M438,704 L352.7,715" fill="none" stroke="#161616" stroke-width="5.0" stroke-linecap="butt" stroke-linejoin="round"/>
<path d="M438,704 L352.7,715" fill="none" stroke="#fff" stroke-width="2.4" stroke-linecap="butt" stroke-linejoin="round"/>
<rect x="-6.5" y="-3.6" width="13" height="7.2" rx="1" transform="translate(346.4,715.8) rotate(-7)" fill="#fff" stroke="#161616" stroke-width="1.7"/>
<path d="M343,713 L343.5,719 M347,712.5 L347.5,718.5 M350,712 L350.5,718" fill="none" stroke="#666" stroke-width="1" stroke-linejoin="round" stroke-linecap="round" />
<path d="M325,714 L330,711.5 L336,713 L336,720.5 L330,722.5 L325,720.5 Z" fill="#3a3a3a" stroke="#161616" stroke-width="1.8" stroke-linejoin="round" stroke-linecap="round" />
<circle cx="330.5" cy="717" r="1.7" fill="#ddd"/>
<path d="M305.3,719.3 L325,717" fill="none" stroke="#161616" stroke-width="1.1" stroke-linejoin="round" stroke-linecap="round" />
<rect x="-4" y="-5.5" width="8" height="11" rx="1.6" transform="translate(299.8,720.6) rotate(-8)" fill="#fff" stroke="#161616" stroke-width="1.6"/>
<path d="M437.7,706.7 Q412,718 401.5,723.4 Q388,733 382,743 Q376,748 368,748.5" fill="none" stroke="#161616" stroke-width="1.4" stroke-linejoin="round" stroke-linecap="round" />
<path d="M440.5,708 Q418,722 407,726.2 Q395,737 387.5,745.7 L381,752" fill="none" stroke="#161616" stroke-width="1.4" stroke-linejoin="round" stroke-linecap="round" />
<rect x="-9" y="-2.6" width="18" height="5.2" rx="2.4" transform="translate(359,750) rotate(-22)" fill="#fff" stroke="#161616" stroke-width="1.6"/>
<rect x="-2.6" y="-5.5" width="5.2" height="11" rx="2.4" transform="translate(376.3,754.8) rotate(38)" fill="#fff" stroke="#161616" stroke-width="1.6"/>
<g transform="translate(480,600) rotate(35)"><rect x="-8.5" y="-4.5" width="8.5" height="9" fill="#eee" stroke="#161616" stroke-width="2.4"/><rect x="0" y="-4.5" width="8.5" height="9" fill="#eee" stroke="#161616" stroke-width="2.4"/><path d="M-7,-4.8 L7,-4.8" stroke="#161616" stroke-width="3"/><path d="M0,-4.5 L0,4.5" stroke="#161616" stroke-width="3"/></g>
</svg></body></html>
